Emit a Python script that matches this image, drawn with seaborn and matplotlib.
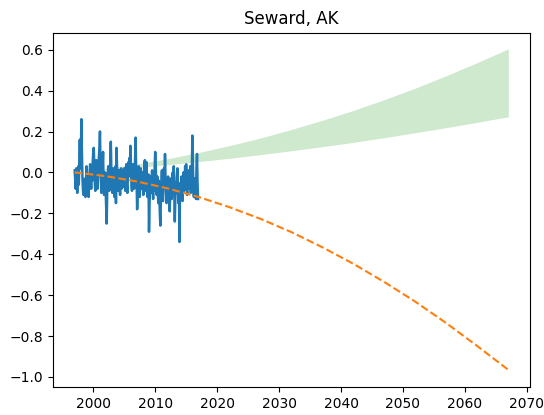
import numpy as np
import pandas as pd
import matplotlib
matplotlib.use("Agg")
import matplotlib.pyplot as plt
import seaborn as sns

title = "Seward, AK"

# Monthly observed anomaly, 1997-01 .. 2016-12 (one row per year)
obs_1997 = [0.01, -0.03, -0.08, 0.02, -0.05, -0.10, -0.02, 0.03, -0.06, 0.05, 0.16, 0.02]
obs_1998 = [0.08, 0.26, 0.10, -0.02, -0.08, -0.11, -0.04, -0.09, -0.03, -0.12, -0.06, 0.03]
obs_1999 = [-0.05, -0.02, -0.10, -0.12, -0.06, 0.00, 0.04, -0.03, -0.08, 0.02, -0.04, 0.05]
obs_2000 = [0.10, 0.12, 0.03, -0.05, -0.09, -0.02, 0.06, -0.01, -0.08, -0.04, 0.02, 0.08]
obs_2001 = [0.12, 0.20, 0.04, -0.05, -0.10, -0.04, 0.02, 0.10, -0.06, -0.11, -0.03, 0.00]
obs_2002 = [-0.08, -0.15, -0.25, -0.10, -0.02, 0.03, -0.05, -0.09, -0.01, 0.05, 0.15, 0.02]
obs_2003 = [-0.06, -0.10, -0.03, 0.02, -0.07, -0.12, -0.04, 0.03, -0.15, 0.12, 0.04, -0.05]
obs_2004 = [-0.09, -0.03, 0.01, -0.06, -0.11, -0.02, 0.02, -0.08, -0.04, 0.01, -0.07, -0.03]
obs_2005 = [0.02, -0.05, -0.09, -0.01, 0.04, -0.06, -0.10, -0.03, 0.05, -0.02, 0.07, 0.01]
obs_2006 = [0.13, 0.02, -0.06, -0.09, -0.03, 0.04, -0.05, -0.08, 0.00, 0.06, 0.17, 0.03]
obs_2007 = [-0.04, -0.18, -0.10, -0.02, 0.03, -0.07, -0.12, -0.03, 0.02, -0.08, -0.05, 0.00]
obs_2008 = [-0.06, -0.11, -0.02, 0.04, 0.06, -0.03, -0.09, 0.05, -0.04, -0.12, -0.07, -0.01]
obs_2009 = [-0.29, -0.15, -0.08, -0.02, -0.10, -0.05, 0.01, -0.07, -0.13, -0.03, -0.09, 0.02]
obs_2010 = [0.10, 0.03, -0.05, -0.11, -0.02, -0.08, -0.15, -0.04, -0.10, -0.20, -0.26, -0.12]
obs_2011 = [-0.05, 0.01, -0.09, -0.14, -0.06, 0.02, -0.04, 0.09, -0.03, -0.10, -0.15, -0.04]
obs_2012 = [-0.08, -0.02, -0.12, -0.06, -0.19, -0.10, -0.03, -0.08, -0.13, -0.05, 0.00, -0.07]
obs_2013 = [0.03, -0.09, -0.24, -0.12, -0.05, -0.10, -0.02, 0.02, -0.08, -0.15, -0.06, -0.34]
obs_2014 = [-0.12, -0.05, -0.10, -0.02, -0.08, -0.14, -0.04, 0.00, -0.09, -0.06, 0.03, -0.03]
obs_2015 = [0.04, -0.07, -0.11, -0.02, -0.05, 0.01, -0.08, -0.04, 0.03, -0.10, -0.06, 0.00]
obs_2016 = [0.18, 0.05, -0.08, -0.12, -0.03, -0.10, -0.06, -0.13, 0.02, 0.09, -0.05, -0.13]

obs_start_year = 1997

# Projection curves, every 5 years
proj_years = [1997, 2002, 2007, 2012, 2017, 2022, 2027, 2032, 2037, 2042,
              2047, 2052, 2057, 2062, 2067]
trend_vals = [0.0, -0.018, -0.044, -0.078, -0.120, -0.170, -0.227, -0.292,
              -0.366, -0.447, -0.536, -0.632, -0.737, -0.849, -0.965]
band_upper = [0.0, 0.019, 0.041, 0.067, 0.097, 0.131, 0.168, 0.210, 0.255,
              0.303, 0.356, 0.412, 0.473, 0.537, 0.604]
band_lower = [0.0, 0.011, 0.024, 0.038, 0.053, 0.069, 0.087, 0.106, 0.126,
              0.147, 0.170, 0.194, 0.219, 0.245, 0.272]

obs_vals = (obs_1997 + obs_1998 + obs_1999 + obs_2000 + obs_2001 + obs_2002 +
            obs_2003 + obs_2004 + obs_2005 + obs_2006 + obs_2007 + obs_2008 +
            obs_2009 + obs_2010 + obs_2011 + obs_2012 + obs_2013 + obs_2014 +
            obs_2015 + obs_2016)
obs_df = pd.DataFrame({
    "year": obs_start_year + np.arange(len(obs_vals)) / 12.0,
    "value": obs_vals,
})
proj_df = pd.DataFrame({
    "year": proj_years, "trend": trend_vals,
    "upper": band_upper, "lower": band_lower,
})

fig = plt.figure(figsize=(5.44, 4.15), dpi=100)
ax = fig.add_axes([0.0974, 0.0675, 0.8768, 0.8537])

sns.lineplot(data=obs_df, x="year", y="value", ax=ax, color="C0", lw=1.8)
sns.lineplot(data=proj_df, x="year", y="trend", ax=ax, color="C1",
             lw=1.5, linestyle="--")
ax.fill_between(proj_df["year"], proj_df["lower"], proj_df["upper"],
                color="C2", alpha=0.23, lw=0)

ax.set_title(title, fontsize=12)
ax.set_xlabel("")
ax.set_ylabel("")
ax.set_xticks([2000, 2010, 2020, 2030, 2040, 2050, 2060, 2070])
ax.set_yticks([-1.0, -0.8, -0.6, -0.4, -0.2, 0.0, 0.2, 0.4, 0.6])
ax.set_xlim(1993.5, 2070.5)
ax.set_ylim(-1.049, 0.683)

fig.savefig("out.png", dpi=100)
